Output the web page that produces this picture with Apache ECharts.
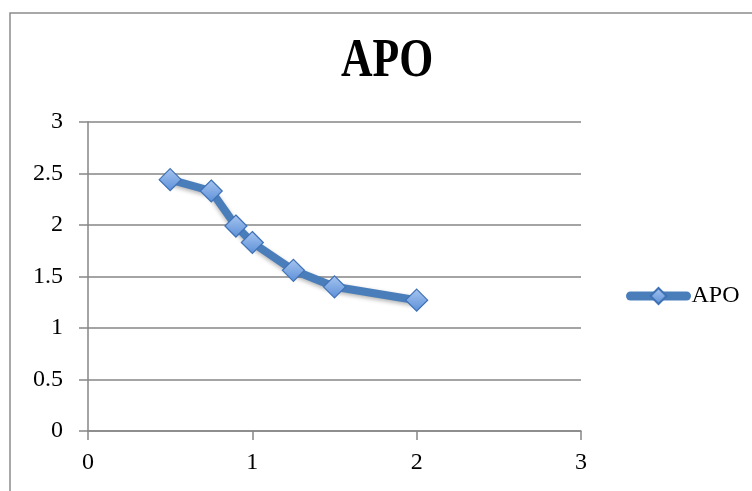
<!DOCTYPE html>
<html><head><meta charset="utf-8">
<script src="https://cdn.jsdelivr.net/npm/echarts@6/dist/echarts.min.js"></script>
<style>html,body{margin:0;padding:0;background:#fff}#c{width:752px;height:491px}</style>
</head><body><div id="c"></div>
<script>
const xValues = [0.5, 0.75, 0.9, 1, 1.25, 1.5, 2];
const apoValues = [2.44, 2.33, 1.99, 1.83, 1.56, 1.40, 1.27];
const seriesName = 'APO';
const titleText = 'APO';

const chart = echarts.init(document.getElementById('c'));
const serif = '"Liberation Serif", "DejaVu Serif", serif';
chart.setOption({
  animation: false,
  backgroundColor: '#fff',
  graphic: [{
    type: 'rect', shape: {x: 10, y: 13, width: 900, height: 700},
    style: {fill: 'none', stroke: '#8c8c8c', lineWidth: 1.5}, silent: true
  }, {
    type: 'text', x: 387, y: 62, scaleX: 0.95, scaleY: 1.2,
    style: {text: titleText, fontFamily: serif, fontWeight: 'bold', fontSize: 46,
      fill: '#000', align: 'center', verticalAlign: 'middle'}, silent: true
  }],
  legend: {
    data: [seriesName], left: 626, top: 284, padding: 0, itemWidth: 56, itemHeight: 20, itemGap: 0,
    lineStyle: {width: 9, color: '#4a7ebb', cap: 'round'},
    textStyle: {fontFamily: serif, fontSize: 24, color: '#000'}
  },
  grid: {left: 88, right: 171, top: 122, bottom: 60},
  xAxis: {
    type: 'value', min: 0, max: 3, interval: 1,
    axisLine: {lineStyle: {color: '#868686', width: 1.5}},
    axisTick: {show: true, length: 9, lineStyle: {color: '#868686', width: 1.5}},
    axisLabel: {fontFamily: serif, fontSize: 24, color: '#000', margin: 20},
    splitLine: {show: false}
  },
  yAxis: {
    type: 'value', min: 0, max: 3, interval: 0.5,
    axisLine: {show: true, lineStyle: {color: '#868686', width: 1.5}},
    axisTick: {show: true, length: 9, lineStyle: {color: '#868686', width: 1.5}},
    axisLabel: {fontFamily: serif, fontSize: 24, color: '#000', margin: 25},
    splitLine: {lineStyle: {color: '#868686', width: 1.5}}
  },
  series: [{
    name: seriesName, type: 'line',
    data: xValues.map((x, i) => [x, apoValues[i]]),
    lineStyle: {color: '#4a7ebb', width: 8, shadowColor: 'rgba(0,0,0,0.3)', shadowBlur: 4, shadowOffsetY: 2},
    symbol: 'diamond', symbolSize: 22,
    itemStyle: {
      color: new echarts.graphic.LinearGradient(0, 0, 0, 1, [
        {offset: 0, color: '#a8c6f0'}, {offset: 1, color: '#5b8fd8'}]),
      borderColor: '#3f71b5', borderWidth: 1.2
    }
  }]
});
</script></body></html>
